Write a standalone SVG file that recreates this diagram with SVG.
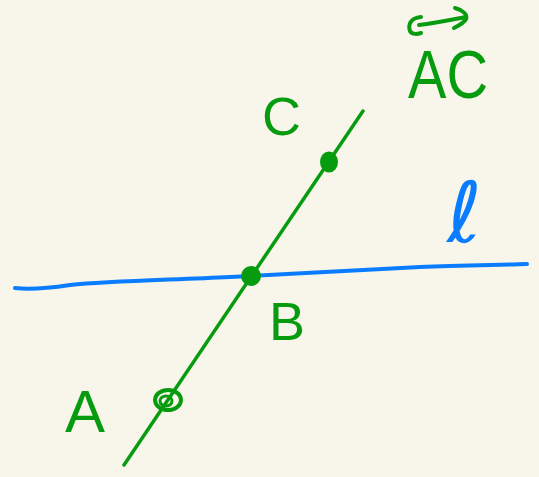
<svg xmlns="http://www.w3.org/2000/svg" width="539" height="477" viewBox="0 0 539 477">
<style>
.g{stroke:#079c0f;fill:none;stroke-linecap:round;stroke-linejoin:round}
.b{stroke:#0a7cff;fill:none;stroke-linecap:round;stroke-linejoin:round}
.lbl{font-family:"Liberation Sans",Arial,sans-serif;fill:#079c0f}
</style>
<rect width="539" height="477" fill="#f8f6ea"/>
<g id="connectors">
<path id="line-l" class="b" stroke-width="4" d="M15,288 C30,290 50,288 70,285 C110,281 170,280 230,277 C300,273 360,270 420,267 C460,265 500,265 527,264"/>
<path id="line-AC" class="g" stroke-width="3.5" d="M124,465 L363,111"/>
</g>
<g id="point-A">
<ellipse class="g" stroke-width="4" cx="168" cy="400" rx="13" ry="10"/>
<ellipse class="g" stroke-width="3" cx="166" cy="401" rx="6" ry="5"/>
</g>
<g id="point-B">
<circle cx="251" cy="276" r="10" fill="#079c0f"/>
</g>
<g id="point-C">
<ellipse cx="329" cy="162" rx="9" ry="10.5" fill="#079c0f"/>
</g>
<g id="label-A"><text class="lbl" x="65" y="432" font-size="60">A</text></g>
<g id="label-B"><text class="lbl" x="269" y="340" font-size="54">B</text></g>
<g id="label-C"><text class="lbl" x="262" y="135" font-size="54">C</text></g>
<g id="label-AC">
<text class="lbl" x="408" y="98" font-size="68" textLength="80" lengthAdjust="spacingAndGlyphs">AC</text>
<path class="g" stroke-width="4" d="M421,17 C410,18 408,25 410,31 C412,35 418,34 421,33 M419,25 C435,23 450,20 466,17 M455,8 C462,10 468,14 466,19 C464,23 458,26 454,28"/>
</g>
<g id="label-l"><text x="447" y="242" font-size="84" font-family="DejaVu Sans, sans-serif" fill="#0a7cff">ℓ</text></g>
</svg>
